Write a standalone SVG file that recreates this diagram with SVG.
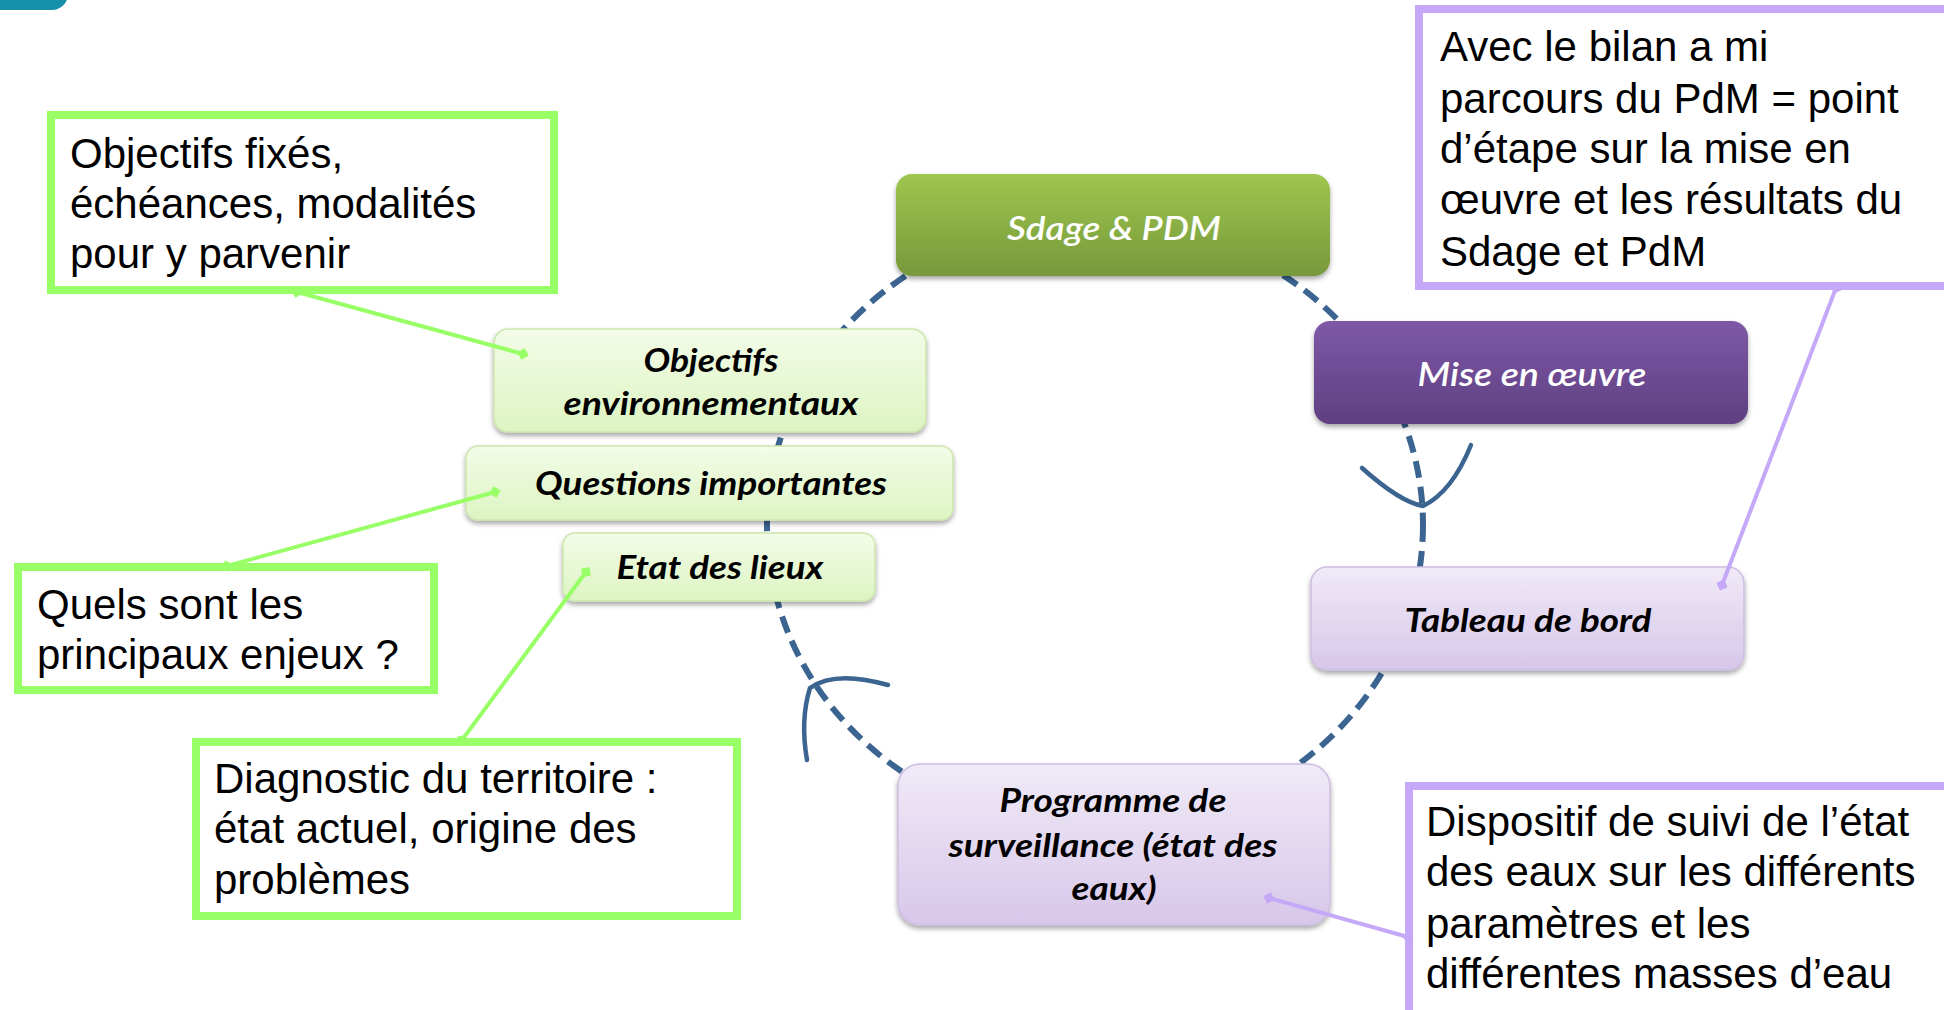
<svg xmlns="http://www.w3.org/2000/svg" width="1944" height="1010" viewBox="0 0 1944 1010">
  <defs>
    <linearGradient id="gGreen" x1="0" y1="0" x2="0" y2="1">
      <stop offset="0" stop-color="#9ec64e"/>
      <stop offset="1" stop-color="#77993b"/>
    </linearGradient>
    <linearGradient id="gPurple" x1="0" y1="0" x2="0" y2="1">
      <stop offset="0" stop-color="#7e59a7"/>
      <stop offset="1" stop-color="#5f3f81"/>
    </linearGradient>
    <linearGradient id="gLav" x1="0" y1="0" x2="0" y2="1">
      <stop offset="0" stop-color="#f0eaf7"/>
      <stop offset="1" stop-color="#d7c7ea"/>
    </linearGradient>
    <linearGradient id="gLime" x1="0" y1="0" x2="0" y2="1">
      <stop offset="0" stop-color="#f3fce8"/>
      <stop offset="1" stop-color="#ddf4c2"/>
    </linearGradient>
    <filter id="shadow" x="-10%" y="-20%" width="120%" height="150%">
      <feDropShadow dx="0" dy="3" stdDeviation="2.5" flood-color="#000" flood-opacity="0.35"/>
    </filter>
    <marker id="dG" viewBox="-6 -6 12 12" markerWidth="12" markerHeight="12" refX="0" refY="0" orient="auto" markerUnits="userSpaceOnUse">
      <path d="M-6,0 L0,-6 L6,0 L0,6 Z" fill="#99ff66"/>
    </marker>
    <marker id="dP" viewBox="-6 -6 12 12" markerWidth="12" markerHeight="12" refX="0" refY="0" orient="auto" markerUnits="userSpaceOnUse">
      <path d="M-6,0 L0,-6 L6,0 L0,6 Z" fill="#c5a8f7"/>
    </marker>
    <style>
      .lbl { font-family: Lato, "Open Sans", sans-serif; font-style: italic; font-weight: bold; font-size: 32px; fill: #000; text-anchor: middle; }
      .wlbl { font-family: Lato, "Open Sans", sans-serif; font-style: italic; font-weight: 600; font-size: 32px; fill: #fff; text-anchor: middle; }
      .note { font-family: "Liberation Sans", Arial, sans-serif; font-size: 42px; fill: #000; }
      .gbox { fill: #fff; stroke: #99ff66; stroke-width: 8; }
      .pbox { fill: #fff; stroke: #c5a8f7; stroke-width: 8; }
      .cyc { fill: none; stroke: #3b6490; stroke-width: 6; stroke-dasharray: 17 9; }
      .arr { fill: none; stroke: #3b6490; stroke-width: 4.5; stroke-linecap: round; }
      .gl { stroke: #99ff66; stroke-width: 4; fill: none; }
      .pl { stroke: #c5a8f7; stroke-width: 4; fill: none; }
      .limeNode { fill: url(#gLime); stroke: #cde6ae; stroke-width: 1.5; filter: url(#shadow); }
      .lavNode { fill: url(#gLav); stroke: #cdbde2; stroke-width: 1.5; filter: url(#shadow); }
    </style>
  </defs>

  <rect width="1944" height="1010" fill="#fff"/>

  <!-- corner decoration -->
  <rect x="-40" y="-40" width="108" height="50" rx="16" fill="#1690a8"/>

  <!-- cycle connectors -->
  <g id="connectors">
    <ellipse class="cyc" cx="1095" cy="525" rx="328" ry="305"/>
    <path class="arr" d="M1362,468 Q1400,502 1423,506 Q1452,492 1471,445"/>
    <path class="arr" d="M888,685 Q835,670 810,688 Q800,720 807,760"/>
  </g>

  <!-- nodes -->
  <g id="node-sdage">
    <rect x="896" y="174" width="434" height="102" rx="16" fill="url(#gGreen)" filter="url(#shadow)"/>
    <text class="wlbl" x="1114" y="240" textLength="214" lengthAdjust="spacingAndGlyphs">Sdage &amp; PDM</text>
  </g>
  <g id="node-mise">
    <rect x="1314" y="321" width="434" height="103" rx="16" fill="url(#gPurple)" filter="url(#shadow)"/>
    <text class="wlbl" x="1532" y="386" textLength="229" lengthAdjust="spacingAndGlyphs">Mise en œuvre</text>
  </g>
  <g id="node-tableau">
    <rect class="lavNode" x="1311" y="567" width="433" height="103" rx="16"/>
    <text class="lbl" x="1528" y="632" textLength="247" lengthAdjust="spacingAndGlyphs">Tableau de bord</text>
  </g>
  <g id="node-programme">
    <rect class="lavNode" x="898" y="764" width="432" height="161" rx="22"/>
    <text class="lbl" x="1113" y="812" textLength="227" lengthAdjust="spacingAndGlyphs">Programme de</text>
    <text class="lbl" x="1113" y="857" textLength="329" lengthAdjust="spacingAndGlyphs">surveillance (état des</text>
    <text class="lbl" x="1114" y="900" textLength="85" lengthAdjust="spacingAndGlyphs">eaux)</text>
  </g>
  <g id="node-objectifs">
    <rect class="limeNode" x="494" y="329" width="432" height="103" rx="14"/>
    <text class="lbl" x="711" y="372" textLength="135" lengthAdjust="spacingAndGlyphs">Objectifs</text>
    <text class="lbl" x="711" y="415" textLength="295" lengthAdjust="spacingAndGlyphs">environnementaux</text>
  </g>
  <g id="node-questions">
    <rect class="limeNode" x="466" y="446" width="487" height="74" rx="12"/>
    <text class="lbl" x="711" y="495" textLength="352" lengthAdjust="spacingAndGlyphs">Questions importantes</text>
  </g>
  <g id="node-etat">
    <rect class="limeNode" x="563" y="533" width="312" height="68" rx="12"/>
    <text class="lbl" x="720" y="579" textLength="207" lengthAdjust="spacingAndGlyphs">Etat des lieux</text>
  </g>

  <!-- callout boxes -->
  <g id="note-objectifs">
    <rect class="gbox" x="51" y="115" width="503" height="175"/>
    <text class="note" x="70" y="168">Objectifs fixés,</text>
    <text class="note" x="70" y="218">échéances, modalités</text>
    <text class="note" x="70" y="268">pour y parvenir</text>
  </g>
  <g id="note-enjeux">
    <rect class="gbox" x="18" y="567" width="416" height="123"/>
    <text class="note" x="37" y="619">Quels sont les</text>
    <text class="note" x="37" y="669">principaux enjeux ?</text>
  </g>
  <g id="note-diagnostic">
    <rect class="gbox" x="196" y="742" width="541" height="174"/>
    <text class="note" x="214" y="793">Diagnostic du territoire :</text>
    <text class="note" x="214" y="843">état actuel, origine des</text>
    <text class="note" x="214" y="894">problèmes</text>
  </g>
  <g id="note-bilan">
    <rect class="pbox" x="1419" y="9" width="600" height="277"/>
    <text class="note" x="1440" y="61">Avec le bilan a mi</text>
    <text class="note" x="1440" y="113">parcours du PdM = point</text>
    <text class="note" x="1440" y="163">d’étape sur la mise en</text>
    <text class="note" x="1440" y="214">œuvre et les résultats du</text>
    <text class="note" x="1440" y="266">Sdage et PdM</text>
  </g>
  <g id="note-dispositif">
    <rect class="pbox" x="1409" y="786" width="600" height="300"/>
    <text class="note" x="1426" y="836">Dispositif de suivi de l’état</text>
    <text class="note" x="1426" y="886">des eaux sur les différents</text>
    <text class="note" x="1426" y="938">paramètres et les</text>
    <text class="note" x="1426" y="988">différentes masses d’eau</text>
  </g>

  <!-- callout connectors -->
  <g id="callout-connectors">
    <line class="gl" x1="297" y1="292" x2="523" y2="354" marker-start="url(#dG)" marker-end="url(#dG)"/>
    <line class="gl" x1="227" y1="566" x2="495" y2="492" marker-start="url(#dG)" marker-end="url(#dG)"/>
    <line class="gl" x1="462" y1="740" x2="586" y2="572" marker-start="url(#dG)" marker-end="url(#dG)"/>
    <line class="pl" x1="1836" y1="288" x2="1722" y2="585" marker-start="url(#dP)" marker-end="url(#dP)"/>
    <line class="pl" x1="1408" y1="937" x2="1269" y2="898" marker-start="url(#dP)" marker-end="url(#dP)"/>
  </g>
</svg>
